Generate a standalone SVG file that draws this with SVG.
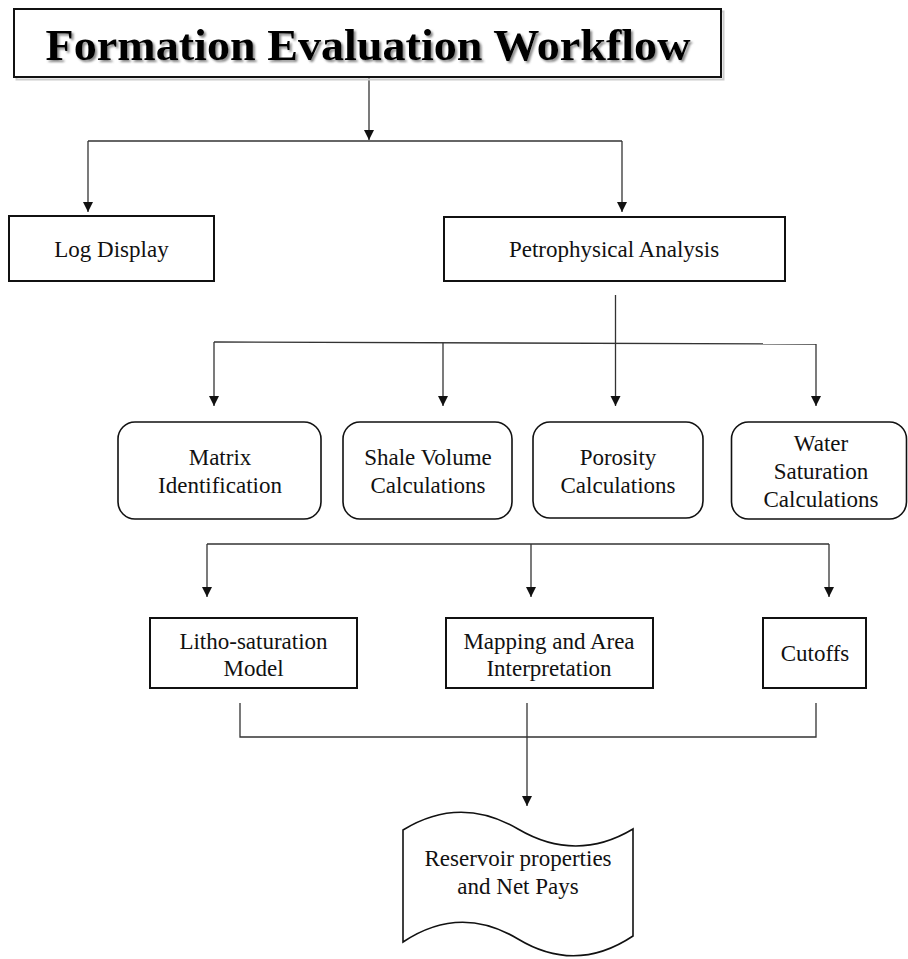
<svg xmlns="http://www.w3.org/2000/svg" width="908" height="959" viewBox="0 0 908 959">
<style>
.box{fill:#fff;stroke:#111;stroke-width:2}
.rbox{fill:#fff;stroke:#111;stroke-width:1.6}
.t{font-family:"Liberation Serif","Times New Roman",serif;font-size:23px;fill:#111;text-anchor:middle}
.ln{fill:none;stroke:#333;stroke-width:1.3}
.title{font-family:"Liberation Serif","Times New Roman",serif;font-size:45px;font-weight:bold;text-anchor:middle;fill:#000}
</style>
<defs>
<marker id="ah" viewBox="0 0 10 14" refX="10" refY="7" markerWidth="10" markerHeight="14" markerUnits="userSpaceOnUse" orient="auto">
<path d="M0,2 L10,7 L0,12 Z" fill="#111"/>
</marker>
<filter id="sh" x="-5%" y="-20%" width="110%" height="140%">
<feDropShadow dx="2" dy="2" stdDeviation="1.2" flood-color="#555" flood-opacity="0.7"/>
</filter>
</defs>
<rect width="908" height="959" fill="#fff"/>
<g id="connectors">
<path class="ln" d="M369,78 V140" marker-end="url(#ah)"/>
<path class="ln" d="M88,141 H622"/>
<path class="ln" d="M88,141 V212" marker-end="url(#ah)"/>
<path class="ln" d="M622,141 V212" marker-end="url(#ah)"/>
<path class="ln" d="M615.5,295 V406" marker-end="url(#ah)"/>
<path class="ln" d="M214,342 L816,344"/>
<path class="ln" d="M214,342 V406" marker-end="url(#ah)"/>
<path class="ln" d="M443,342.8 V406" marker-end="url(#ah)"/>
<path class="ln" d="M816,344 V406" marker-end="url(#ah)"/>
<path class="ln" d="M207,544 H829"/>
<path class="ln" d="M207,544 V597" marker-end="url(#ah)"/>
<path class="ln" d="M531,544 V597" marker-end="url(#ah)"/>
<path class="ln" d="M829,544 V597" marker-end="url(#ah)"/>
<path class="ln" d="M240,703 V737 H816 V703"/>
<path class="ln" d="M527,703 V806" marker-end="url(#ah)"/>
</g>
<g id="title">
<rect x="15" y="10" width="707" height="68" fill="none" stroke="#ccc" stroke-width="2" transform="translate(1.5,1.5)"/>
<rect class="box" x="14" y="9" width="707" height="68" stroke-width="2.6"/>
<text class="title" x="368" y="60" textLength="645" lengthAdjust="spacingAndGlyphs" filter="url(#sh)">Formation Evaluation Workflow</text>
</g>
<g id="log-display">
<rect class="box" x="9" y="216" width="205" height="65"/>
<text class="t" x="111.5" y="257">Log Display</text>
</g>
<g id="petrophysical-analysis">
<rect class="box" x="444" y="217" width="341" height="64"/>
<text class="t" x="614" y="257">Petrophysical Analysis</text>
</g>
<g id="matrix">
<rect class="rbox" x="118" y="422" width="203" height="97" rx="17"/>
<text class="t" x="220" y="465">Matrix</text>
<text class="t" x="220" y="493">Identification</text>
</g>
<g id="shale">
<rect class="rbox" x="343" y="422" width="169" height="97" rx="17"/>
<text class="t" x="428" y="465">Shale Volume</text>
<text class="t" x="428" y="493">Calculations</text>
</g>
<g id="porosity">
<rect class="rbox" x="533" y="422" width="170" height="96" rx="17"/>
<text class="t" x="618" y="465">Porosity</text>
<text class="t" x="618" y="493">Calculations</text>
</g>
<g id="water">
<rect class="rbox" x="731.5" y="422" width="175" height="97" rx="17"/>
<text class="t" x="821" y="451">Water</text>
<text class="t" x="821" y="479">Saturation</text>
<text class="t" x="821" y="507">Calculations</text>
</g>
<g id="litho">
<rect class="box" x="150" y="618" width="207" height="70"/>
<text class="t" x="253.5" y="649">Litho-saturation</text>
<text class="t" x="253.5" y="676">Model</text>
</g>
<g id="mapping">
<rect class="box" x="446" y="618" width="207" height="70"/>
<text class="t" x="549" y="649">Mapping and Area</text>
<text class="t" x="549" y="676">Interpretation</text>
</g>
<g id="cutoffs">
<rect class="box" x="763" y="618" width="103" height="70"/>
<text class="t" x="815" y="661">Cutoffs</text>
</g>
<g id="reservoir">
<path d="M403,830 Q460,795 518,829 T633,829 L633,936 Q576,974 518,939 T403,942 Z" fill="#fff" stroke="#111" stroke-width="1.6"/>
<text class="t" x="518" y="866">Reservoir properties</text>
<text class="t" x="518" y="894">and Net Pays</text>
</g>
</svg>
